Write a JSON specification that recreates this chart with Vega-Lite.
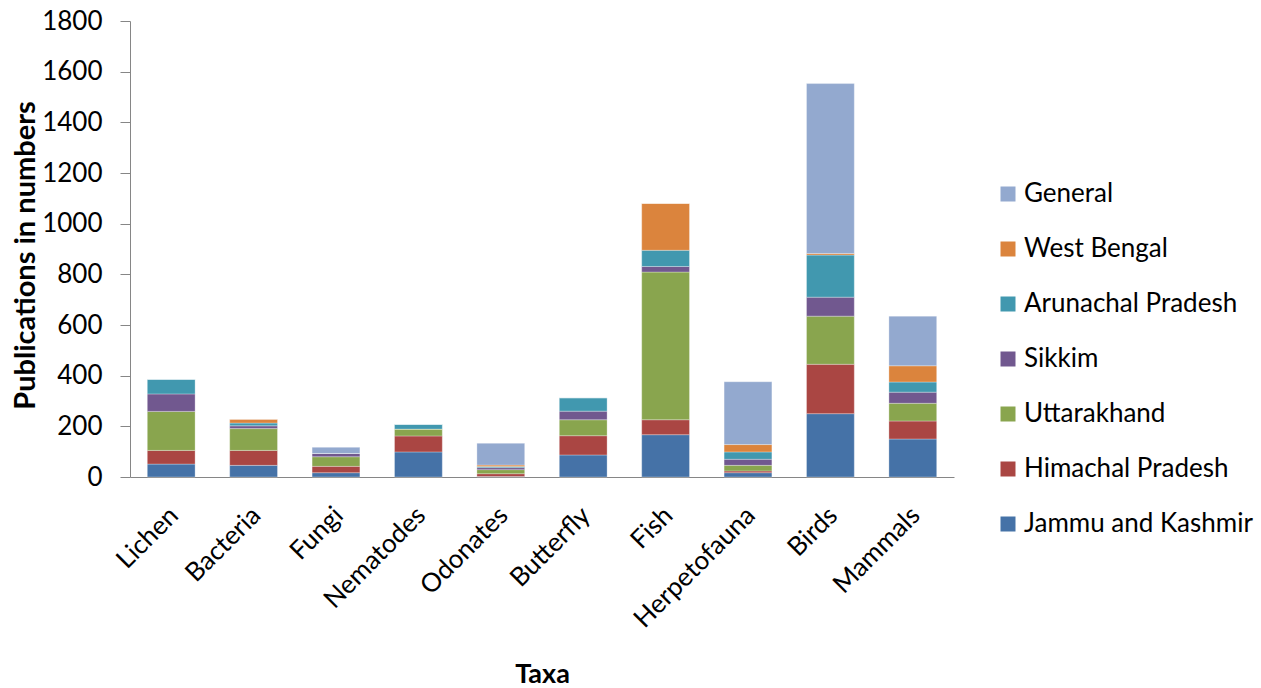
{
  "$schema": "https://vega.github.io/schema/vega-lite/v6.json",
  "autosize": "none",
  "width": 824,
  "height": 456,
  "padding": {"left": 130, "top": 21, "right": 307, "bottom": 211},
  "background": "white",
  "config": {
    "font": "Lato",
    "view": {"stroke": null},
    "axis": {"grid": false, "domainColor": "#868686", "tickColor": "#868686", "labelColor": "#000000", "titleColor": "#000000"}
  },
  "data": {
    "values": [
      {"taxa": "Lichen", "region": "Jammu and Kashmir", "count": 51},
      {"taxa": "Lichen", "region": "Himachal Pradesh", "count": 54},
      {"taxa": "Lichen", "region": "Uttarakhand", "count": 154},
      {"taxa": "Lichen", "region": "Sikkim", "count": 69},
      {"taxa": "Lichen", "region": "Arunachal Pradesh", "count": 58},
      {"taxa": "Lichen", "region": "West Bengal", "count": 0},
      {"taxa": "Lichen", "region": "General", "count": 0},

      {"taxa": "Bacteria", "region": "Jammu and Kashmir", "count": 46},
      {"taxa": "Bacteria", "region": "Himachal Pradesh", "count": 59},
      {"taxa": "Bacteria", "region": "Uttarakhand", "count": 86},
      {"taxa": "Bacteria", "region": "Sikkim", "count": 11},
      {"taxa": "Bacteria", "region": "Arunachal Pradesh", "count": 11},
      {"taxa": "Bacteria", "region": "West Bengal", "count": 15},
      {"taxa": "Bacteria", "region": "General", "count": 0},

      {"taxa": "Fungi", "region": "Jammu and Kashmir", "count": 17},
      {"taxa": "Fungi", "region": "Himachal Pradesh", "count": 25},
      {"taxa": "Fungi", "region": "Uttarakhand", "count": 38},
      {"taxa": "Fungi", "region": "Sikkim", "count": 13},
      {"taxa": "Fungi", "region": "Arunachal Pradesh", "count": 0},
      {"taxa": "Fungi", "region": "West Bengal", "count": 0},
      {"taxa": "Fungi", "region": "General", "count": 24},

      {"taxa": "Nematodes", "region": "Jammu and Kashmir", "count": 99},
      {"taxa": "Nematodes", "region": "Himachal Pradesh", "count": 63},
      {"taxa": "Nematodes", "region": "Uttarakhand", "count": 27},
      {"taxa": "Nematodes", "region": "Sikkim", "count": 0},
      {"taxa": "Nematodes", "region": "Arunachal Pradesh", "count": 19},
      {"taxa": "Nematodes", "region": "West Bengal", "count": 0},
      {"taxa": "Nematodes", "region": "General", "count": 0},

      {"taxa": "Odonates", "region": "Jammu and Kashmir", "count": 2},
      {"taxa": "Odonates", "region": "Himachal Pradesh", "count": 11},
      {"taxa": "Odonates", "region": "Uttarakhand", "count": 16},
      {"taxa": "Odonates", "region": "Sikkim", "count": 8},
      {"taxa": "Odonates", "region": "Arunachal Pradesh", "count": 4},
      {"taxa": "Odonates", "region": "West Bengal", "count": 6},
      {"taxa": "Odonates", "region": "General", "count": 86},

      {"taxa": "Butterfly", "region": "Jammu and Kashmir", "count": 87},
      {"taxa": "Butterfly", "region": "Himachal Pradesh", "count": 76},
      {"taxa": "Butterfly", "region": "Uttarakhand", "count": 63},
      {"taxa": "Butterfly", "region": "Sikkim", "count": 34},
      {"taxa": "Butterfly", "region": "Arunachal Pradesh", "count": 53},
      {"taxa": "Butterfly", "region": "West Bengal", "count": 0},
      {"taxa": "Butterfly", "region": "General", "count": 0},

      {"taxa": "Fish", "region": "Jammu and Kashmir", "count": 167},
      {"taxa": "Fish", "region": "Himachal Pradesh", "count": 59},
      {"taxa": "Fish", "region": "Uttarakhand", "count": 583},
      {"taxa": "Fish", "region": "Sikkim", "count": 22},
      {"taxa": "Fish", "region": "Arunachal Pradesh", "count": 64},
      {"taxa": "Fish", "region": "West Bengal", "count": 185},
      {"taxa": "Fish", "region": "General", "count": 0},

      {"taxa": "Herpetofauna", "region": "Jammu and Kashmir", "count": 17},
      {"taxa": "Herpetofauna", "region": "Himachal Pradesh", "count": 7},
      {"taxa": "Herpetofauna", "region": "Uttarakhand", "count": 22},
      {"taxa": "Herpetofauna", "region": "Sikkim", "count": 24},
      {"taxa": "Herpetofauna", "region": "Arunachal Pradesh", "count": 29},
      {"taxa": "Herpetofauna", "region": "West Bengal", "count": 29},
      {"taxa": "Herpetofauna", "region": "General", "count": 248},

      {"taxa": "Birds", "region": "Jammu and Kashmir", "count": 250},
      {"taxa": "Birds", "region": "Himachal Pradesh", "count": 195},
      {"taxa": "Birds", "region": "Uttarakhand", "count": 190},
      {"taxa": "Birds", "region": "Sikkim", "count": 75},
      {"taxa": "Birds", "region": "Arunachal Pradesh", "count": 166},
      {"taxa": "Birds", "region": "West Bengal", "count": 6},
      {"taxa": "Birds", "region": "General", "count": 671},

      {"taxa": "Mammals", "region": "Jammu and Kashmir", "count": 150},
      {"taxa": "Mammals", "region": "Himachal Pradesh", "count": 71},
      {"taxa": "Mammals", "region": "Uttarakhand", "count": 70},
      {"taxa": "Mammals", "region": "Sikkim", "count": 44},
      {"taxa": "Mammals", "region": "Arunachal Pradesh", "count": 40},
      {"taxa": "Mammals", "region": "West Bengal", "count": 64},
      {"taxa": "Mammals", "region": "General", "count": 196}
    ]
  },
  "transform": [
    {"calculate": "indexof(['Jammu and Kashmir', 'Himachal Pradesh', 'Uttarakhand', 'Sikkim', 'Arunachal Pradesh', 'West Bengal', 'General'], datum.region)", "as": "stackPos"}
  ],
  "mark": {"type": "bar", "stroke": "#ffffff", "strokeOpacity": 0.5, "strokeWidth": 0.6},
  "encoding": {
    "x": {
      "field": "taxa",
      "type": "nominal",
      "sort": null,
      "scale": {"paddingInner": 0.42, "paddingOuter": 0.21},
      "axis": {
        "title": "Taxa",
        "titleFontSize": 27,
        "titleFontWeight": "bold",
        "titlePadding": 29,
        "labelAngle": -45,
        "labelAlign": "right",
        "labelBaseline": "middle",
        "labelFontSize": 26,
        "labelPadding": 34,
        "labelOffset": 3,
        "ticks": false
      }
    },
    "y": {
      "field": "count",
      "type": "quantitative",
      "stack": "zero",
      "scale": {"domain": [0, 1800], "nice": false},
      "axis": {
        "title": "Publications in numbers",
        "titleFontSize": 29,
        "titleFontWeight": "bold",
        "titleX": -96,
        "titleY": 234,
        "titleBaseline": "alphabetic",
        "values": [0, 200, 400, 600, 800, 1000, 1200, 1400, 1600, 1800],
        "format": "d",
        "labelFontSize": 26,
        "labelPadding": 18,
        "tickSize": 10
      }
    },
    "color": {
      "field": "region",
      "type": "nominal",
      "scale": {
        "domain": ["General", "West Bengal", "Arunachal Pradesh", "Sikkim", "Uttarakhand", "Himachal Pradesh", "Jammu and Kashmir"],
        "range": ["#93A9CF", "#DB843D", "#4198AF", "#71588F", "#89A54E", "#AA4643", "#4572A7"]
      },
      "legend": {
        "title": null,
        "orient": "none",
        "legendX": 865,
        "legendY": 160,
        "symbolType": "square",
        "symbolSize": 225,
        "symbolStrokeWidth": 0,
        "labelFontSize": 26,
        "labelOffset": 3,
        "rowPadding": 29,
        "labelLimit": 400
      }
    },
    "order": {"field": "stackPos", "type": "quantitative", "sort": "ascending"}
  }
}
